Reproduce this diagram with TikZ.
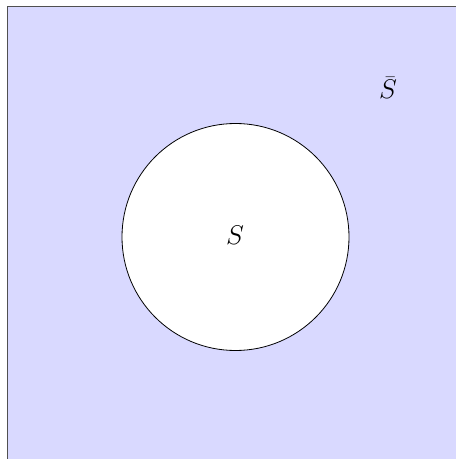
\RequirePackage{fix-cm}
\documentclass[tikz,border=0pt]{standalone}
\usepackage{tikz}

\begin{document}
\begin{tikzpicture}[x=1pt,y=1pt]

% Colori
\definecolor{colFuori}{RGB}{217,217,255}
\definecolor{lineGray}{HTML}{505050}

% Raggio dell'insieme S
\def\r{113.5}

\tikzset{etichetta/.style={anchor=base, font=\fontsize{27}{32}\selectfont}}

\useasboundingbox (0,0) rectangle (456,459);
\clip (0,0) rectangle (456,459);

% Universo (tagliato a destra e in basso)
\path[fill=colFuori, draw=lineGray, line width=0.9pt] (7,-20) rectangle (480,453);

% Insieme S
\path[fill=white, draw=black, line width=0.8pt] (235.5,222) circle (\r);

% Etichette
\node[etichetta] (S) at (235,214) {$S$};
\node[etichetta] (Sbar) at (388,360) {$\bar{S}$};

\end{tikzpicture}
\end{document}
